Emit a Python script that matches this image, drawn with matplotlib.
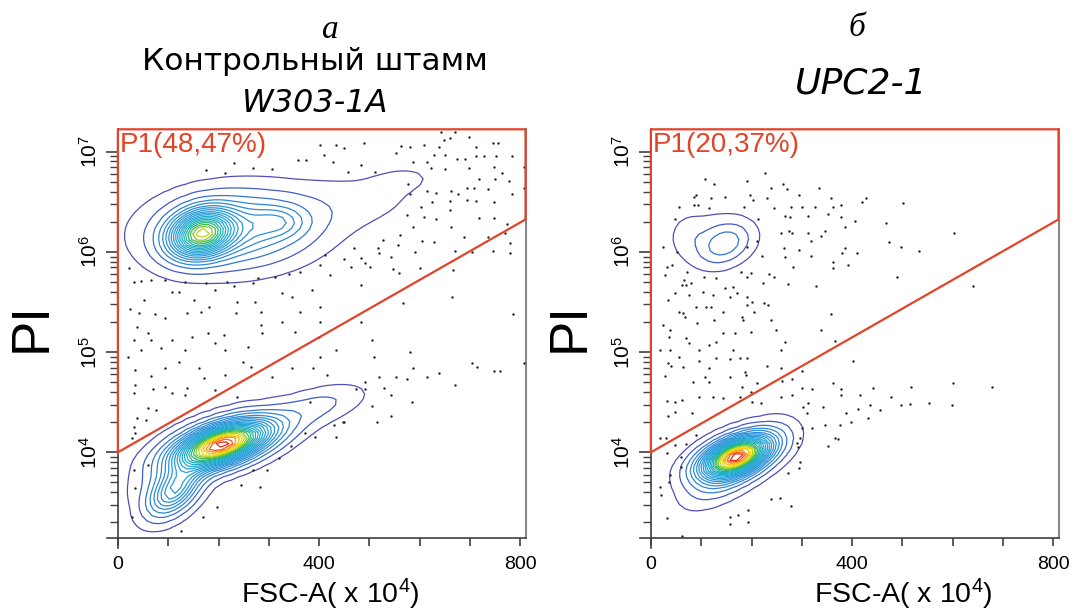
import numpy as np
import matplotlib
matplotlib.use("Agg")
import matplotlib.pyplot as plt
from matplotlib.colors import LinearSegmentedColormap
from matplotlib.ticker import FixedLocator, LogLocator, NullFormatter, FixedFormatter
from matplotlib.lines import Line2D

plt.rcParams['font.family'] = ['Liberation Sans', 'DejaVu Sans']
plt.rcParams['mathtext.fontset'] = 'custom'
plt.rcParams['mathtext.rm'] = 'Liberation Sans'
plt.rcParams['mathtext.it'] = 'Liberation Sans:italic'

# axis ranges (FSC-A in x10^4, PI as log10)
fsc_range = (-21, 810)
pi_log_range = (3.15, 7.224)

# gate P1: from (0, 10^4) to right edge at 2.11e6, closed along the top
gate_fsc = [0, 810, 810, 0, 0]
gate_pi = [1e4, 2.11e6, 10 ** 7.224, 10 ** 7.224, 1e4]

# populations as (fsc, log10 PI, sd fsc, sd log PI, corr, peak height)
ctrl_live = [(205, 4.08, 60, 0.15, 0.55, 1.0),
             (112, 3.62, 33, 0.16, 0.5, 0.35),
             (235, 4.06, 105, 0.25, 0.88, 0.07),
             (395, 4.47, 55, 0.12, 0.5, 0.04)]
ctrl_dead = [(165, 6.18, 40, 0.15, 0.2, 0.66),
             (230, 6.22, 90, 0.22, 0.1, 0.22),
             (320, 6.30, 35, 0.10, 0.0, 0.10),
             (420, 6.45, 120, 0.20, 0.4, 0.025),
             (560, 6.72, 40, 0.08, 0.3, 0.015)]
upc_live = [(168, 3.96, 44, 0.13, 0.5, 1.0),
            (170, 3.88, 50, 0.20, 0.7, 0.20)]
upc_dead = [(148, 6.08, 30, 0.12, 0.3, 0.11),
            (120, 6.12, 50, 0.17, 0.1, 0.035),
            (75, 6.20, 18, 0.10, 0.0, 0.015)]

# scattered single events outside the contours (fsc, log10 PI)
ctrl_dots = [
    (659, 7.14), (670, 7.20), (642, 7.20), (697, 7.15), (563, 7.06), (580, 7.05), (608, 7.07), (639, 7.05),
    (649, 7.12), (711, 7.05), (745, 7.09), (755, 7.09), (402, 7.07), (433, 7.07), (449, 7.04), (490, 7.09),
    (409, 6.97), (553, 6.99), (628, 6.97), (651, 6.97), (711, 6.96), (728, 6.96), (752, 6.96), (783, 6.96),
    (357, 6.92), (373, 6.92), (428, 6.90), (484, 6.87), (587, 6.90), (615, 6.90), (673, 6.93), (690, 6.93),
    (747, 6.85), (807, 6.85), (231, 6.89), (176, 6.82), (213, 6.79), (268, 6.84), (306, 6.83), (457, 6.80),
    (510, 6.80), (622, 6.84), (650, 6.83), (698, 6.84), (764, 6.79), (718, 6.73), (749, 6.73), (778, 6.71),
    (735, 6.63), (694, 6.64), (707, 6.64), (783, 6.58), (807, 6.64), (632, 6.59), (661, 6.61), (676, 6.58),
    (615, 6.61), (577, 6.68), (580, 6.58), (624, 6.50), (659, 6.51), (694, 6.52), (711, 6.51), (748, 6.50),
    (602, 6.45), (574, 6.37), (608, 6.35), (632, 6.33), (659, 6.42), (718, 6.34), (748, 6.34), (773, 6.28),
    (769, 6.19), (735, 6.15), (687, 6.15), (661, 6.25), (560, 6.17), (587, 6.25), (604, 6.11), (628, 6.10),
    (556, 6.07), (526, 6.12), (517, 6.04), (469, 6.04), (519, 5.99), (543, 5.95), (591, 6.00), (670, 6.01),
    (704, 6.00), (745, 6.01), (779, 6.09), (779, 5.99), (484, 5.94), (491, 5.89), (450, 5.93), (412, 5.97),
    (402, 5.87), (421, 5.77), (464, 5.85), (501, 5.85), (546, 5.83), (558, 5.79), (601, 5.84), (665, 5.82),
    (361, 5.80), (340, 5.78), (313, 5.75), (279, 5.74), (217, 5.70), (176, 5.69), (93, 5.72), (134, 5.70),
    (45, 5.71), (66, 5.72), (23, 5.84), (32, 5.70),
    (107, 5.60), (121, 5.60), (52, 5.52), (152, 5.52), (193, 5.62), (231, 5.66), (268, 5.69), (327, 5.59),
    (347, 5.55), (385, 5.62), (483, 5.67), (567, 5.49), (663, 5.55), (402, 5.45), (361, 5.40), (272, 5.50),
    (237, 5.50), (182, 5.45), (165, 5.40), (93, 5.34), (73, 5.38), (42, 5.39), (25, 5.43), (38, 5.25),
    (138, 5.39), (234, 5.39), (285, 5.40), (327, 5.30), (402, 5.30), (483, 5.30), (786, 5.38), (59, 5.19),
    (32, 5.12), (45, 5.02), (66, 5.12), (86, 5.04), (107, 5.12), (134, 5.02), (148, 5.15), (179, 5.19),
    (193, 5.09), (210, 5.17), (213, 5.02), (258, 5.05), (285, 5.27), (287, 5.19), (351, 5.20), (399, 5.15),
    (402, 4.95), (433, 5.02), (505, 5.12), (508, 4.95), (580, 5.00), (704, 4.89), (714, 4.85), (748, 4.81),
    (759, 4.81), (807, 4.89), (21, 4.95), (35, 4.82), (66, 4.76), (93, 4.84), (121, 4.90), (162, 4.84),
    (172, 4.74), (213, 4.77), (248, 4.90), (265, 4.85), (306, 4.75), (347, 4.84), (388, 4.84), (416, 4.77),
    (491, 4.70), (519, 4.75), (553, 4.75), (587, 4.84), (615, 4.75), (639, 4.79), (670, 4.67),
    (574, 4.73), (529, 4.64), (543, 4.57), (584, 4.50), (491, 4.63), (473, 4.63), (505, 4.46), (543, 4.36),
    (515, 4.30), (448, 4.30), (381, 4.50), (32, 4.59), (35, 4.67), (59, 4.44), (76, 4.42), (38, 4.34),
    (56, 4.32), (32, 4.25), (138, 4.64), (134, 4.57), (107, 4.59), (69, 4.63), (93, 4.65), (193, 4.62),
    (237, 4.55), (35, 4.19), (28, 4.14),
    (59, 3.87), (32, 3.82), (35, 3.64), (28, 3.35), (169, 3.35), (126, 3.21), (196, 3.45), (244, 3.67),
    (282, 3.65), (268, 3.82), (296, 3.82), (320, 3.94), (344, 4.06), (371, 4.19), (392, 4.15), (429, 4.27),
    (433, 4.15), (450, 4.30)]

upc_dots = [
    (227, 6.79), (108, 6.73), (126, 6.68), (192, 6.71), (262, 6.68), (238, 6.64), (270, 6.63), (334, 6.64),
    (86, 6.55), (90, 6.57), (120, 6.54), (147, 6.55), (196, 6.57), (203, 6.52), (231, 6.54), (294, 6.57),
    (358, 6.54), (419, 6.50), (427, 6.54), (502, 6.49), (55, 6.45), (86, 6.47), (94, 6.47), (115, 6.44),
    (186, 6.45), (245, 6.44), (279, 6.45), (300, 6.45), (327, 6.45), (361, 6.45), (378, 6.47), (266, 6.36),
    (276, 6.35), (312, 6.36), (351, 6.38), (378, 6.35), (405, 6.31), (467, 6.29), (48, 6.33), (213, 6.33),
    (385, 6.25), (274, 6.21), (259, 6.19), (281, 6.19), (313, 6.19), (339, 6.16), (346, 6.21), (603, 6.19),
    (24, 6.05), (33, 5.85), (41, 5.87), (29, 5.77), (52, 6.00), (191, 6.05), (211, 6.11),
    (265, 6.04), (266, 5.95), (283, 5.85), (294, 6.02), (318, 6.11), (318, 5.96), (362, 5.90), (361, 5.84),
    (380, 5.99), (385, 6.04), (392, 5.87), (410, 5.99), (473, 6.10), (497, 6.05), (532, 6.01), (490, 5.75),
    (640, 5.66), (329, 5.66), (273, 5.68), (220, 5.96), (198, 5.79), (180, 5.80), (191, 5.75), (222, 5.69),
    (235, 5.78), (245, 5.75), (72, 5.80), (65, 5.72), (70, 5.67), (75, 5.57), (62, 5.67), (35, 5.52),
    (48, 5.59), (79, 5.69), (106, 5.75), (130, 5.74), (147, 5.64), (164, 5.65), (171, 5.59), (157, 5.55),
    (103, 5.60), (123, 5.57), (191, 5.55), (201, 5.50), (191, 5.47), (225, 5.49), (232, 5.47), (205, 5.40),
    (181, 5.35), (143, 5.40), (120, 5.45), (109, 5.45), (89, 5.45), (63, 5.39), (55, 5.40), (67, 5.35),
    (92, 5.29), (126, 5.32), (184, 5.32), (239, 5.32), (249, 5.22), (143, 5.19), (130, 5.10), (167, 5.19),
    (199, 5.20), (38, 5.22), (24, 5.27), (69, 5.14), (75, 5.09), (36, 5.15), (38, 5.02), (18, 5.02),
    (96, 5.02), (115, 5.07), (164, 5.02), (266, 5.10), (259, 5.02), (339, 5.22), (365, 5.11), (358, 5.38),
    (55, 4.95), (35, 4.89), (40, 4.86), (63, 4.85), (95, 4.91), (115, 4.84), (130, 4.94), (158, 4.93),
    (177, 4.94), (192, 4.94), (231, 4.86), (259, 4.84), (29, 4.76), (108, 4.75), (158, 4.75), (188, 4.80),
    (190, 4.77), (84, 4.70), (116, 4.70), (181, 4.65), (211, 4.69), (260, 4.71), (280, 4.73), (300, 4.81),
    (402, 4.91), (32, 4.51), (48, 4.50), (62, 4.52), (81, 4.39), (35, 4.36), (48, 4.40), (96, 4.55),
    (123, 4.55), (143, 4.54), (177, 4.55), (198, 4.60), (201, 4.50), (218, 4.49), (259, 4.55), (280, 4.57),
    (300, 4.64), (320, 4.63), (303, 4.45), (313, 4.49), (342, 4.45), (361, 4.69), (378, 4.63), (378, 4.57),
    (415, 4.57), (441, 4.64), (477, 4.55), (497, 4.47), (517, 4.65), (552, 4.49), (600, 4.69), (599, 4.47),
    (677, 4.65), (514, 4.48), (436, 4.47), (456, 4.42), (431, 4.34), (412, 4.43), (388, 4.39), (398, 4.30),
    (375, 4.27), (347, 4.27), (320, 4.24), (300, 4.24), (310, 4.39), (365, 4.14), (372, 4.13), (351, 4.06),
    (297, 4.14), (293, 4.05), (290, 4.09), (297, 3.90), (294, 3.84), (273, 3.79), (279, 3.46), (256, 3.54),
    (239, 3.53), (194, 3.42), (194, 3.30), (174, 3.37), (157, 3.35), (157, 3.28), (62, 3.16), (33, 3.34),
    (18, 3.65), (21, 3.57), (37, 3.70), (38, 3.77), (33, 3.99), (18, 4.14), (59, 3.85), (48, 4.07),
    (59, 3.95), (69, 4.08), (89, 4.17), (31, 4.14)]

panels = [
    dict(gate='P1(48,47%)', pops=ctrl_live + ctrl_dead, dots=ctrl_dots),
    dict(gate='P1(20,37%)', pops=upc_live + upc_dead, dots=upc_dots),
]

contour_cmap = LinearSegmentedColormap.from_list('flow', [
    (0.0, '#5548b0'), (0.05, '#3a62cc'), (0.1, '#2f86d6'), (0.45, '#22a8d8'),
    (0.58, '#1cb2b0'), (0.66, '#2bb55c'), (0.74, '#a8d020'), (0.80, '#f0e000'),
    (0.88, '#f8a010'), (0.95, '#f04018'), (1.0, '#e01010')])
level_frac = np.concatenate([[0.012, 0.04], np.linspace(0.08, 0.97, 22)])


def density(comps, X, L):
    Z = np.zeros_like(X)
    for mx, my, sx, sy, r, w in comps:
        dx = (X - mx) / sx
        dy = (L - my) / sy
        q = (dx * dx - 2 * r * dx * dy + dy * dy) / (1 - r * r)
        Z += w * np.exp(-0.5 * q)
    return Z


fig = plt.figure(figsize=(10.75, 6.1), dpi=100)
ax_lefts = [107.3 / 1075, 640.3 / 1075]
gate_red = '#e2442a'

xs = np.linspace(fsc_range[0], fsc_range[1], 75)
ls = np.linspace(pi_log_range[0], pi_log_range[1], 75)
X, L = np.meshgrid(xs, ls)

for i, p in enumerate(panels):
    ax = fig.add_axes([ax_lefts[i], 72.5 / 610, 418.2 / 1075, 408.2 / 610])
    ax.set_yscale('log')
    ax.set_xlim(*fsc_range)
    ax.set_ylim(10 ** pi_log_range[0], 10 ** pi_log_range[1])

    Z = density(p['pops'], X, L)
    Z = Z / Z.max()
    ax.contour(X, 10 ** L, Z, levels=level_frac,
               colors=[contour_cmap(f) for f in level_frac], linewidths=0.9)

    d = np.array(p['dots'])
    ax.scatter(d[:, 0], 10 ** d[:, 1], s=3, color='#222222', linewidths=0, zorder=3)

    ax.plot(gate_fsc, gate_pi, color=gate_red, lw=1.6, clip_on=False, zorder=5)
    ax.text(3, 1e7, p['gate'], color=gate_red, fontsize=20, ha='left', va='baseline', zorder=6)

    # spines and ticks
    ax.spines['top'].set_visible(False)
    ax.spines['right'].set_color('#8a8a8a')
    ax.spines['right'].set_linewidth(1.5)
    ax.spines['left'].set_position(('data', 0))
    for s in ['left', 'bottom']:
        ax.spines[s].set_color('#404040')
        ax.spines[s].set_linewidth(1.2)
    ax.add_line(Line2D([0, 0], [-0.025, 0], transform=ax.get_xaxis_transform(),
                       color='#404040', lw=1.2, clip_on=False))

    ax.set_xticks(np.arange(0, 801, 100))
    ax.set_xticklabels(['0', '', '', '', '400', '', '', '', '800'])
    ax.tick_params(axis='x', length=6, width=1.2, color='#404040', labelsize=14, pad=7)

    ax.yaxis.set_major_locator(FixedLocator([1e4, 1e5, 1e6, 1e7]))
    ax.yaxis.set_major_formatter(FixedFormatter(['$10^{4}$', '$10^{5}$', '$10^{6}$', '$10^{7}$']))
    ax.yaxis.set_minor_locator(LogLocator(base=10, subs=np.arange(2, 10)))
    ax.yaxis.set_minor_formatter(NullFormatter())
    ax.tick_params(axis='y', which='major', length=9, width=1.2, color='#404040',
                   labelsize=15, labelrotation=90, pad=3)
    ax.tick_params(axis='y', which='minor', length=5.5, width=1.0, color='#404040')
    for t in ax.get_yticklabels():
        t.set_va('center')

# axis labels and titles
fig.text(32 / 1075, 1 - 327 / 610, 'PI', rotation=90, fontsize=38, ha='center', va='center')
fig.text(570 / 1075, 1 - 327 / 610, 'PI', rotation=90, fontsize=38, ha='center', va='center')
fig.text(330 / 1075, 1 - 603 / 610, 'FSC-A( x 10$^4$)', fontsize=20.5, ha='center', va='baseline')
fig.text(903 / 1075, 1 - 603 / 610, 'FSC-A( x 10$^4$)', fontsize=20.5, ha='center', va='baseline')

fig.text(330 / 1075, 1 - 30 / 610, 'а', family='Liberation Serif', style='italic', fontsize=24,
         ha='center', va='center')
fig.text(857 / 1075, 1 - 28 / 610, 'б', family='Liberation Serif', style='italic', fontsize=24,
         ha='center', va='center')
fig.text(315 / 1075, 1 - 62 / 610, 'Контрольный штамм', family='DejaVu Sans', fontsize=22.5,
         ha='center', va='center')
fig.text(315 / 1075, 1 - 103 / 610, 'W303-1A', family='DejaVu Sans', style='italic', fontsize=23,
         ha='center', va='center')
fig.text(861 / 1075, 1 - 84 / 610, 'UPC2-1', family='DejaVu Sans', style='italic', fontsize=26,
         ha='center', va='center')

fig.savefig('out.png', dpi=100)
